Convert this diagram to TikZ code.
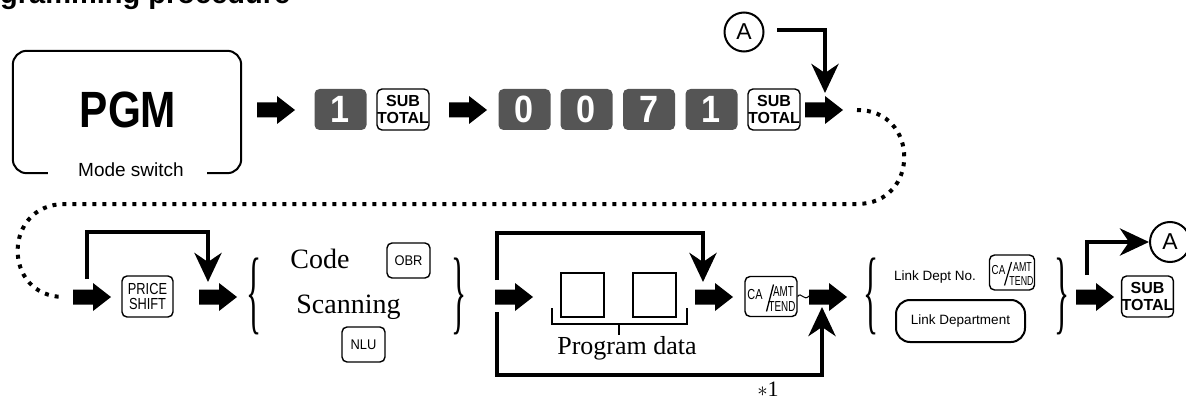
\documentclass[tikz,border=0pt]{standalone}
\usepackage{fontspec}
\setmainfont{Liberation Sans}
\newfontfamily\tnr{Liberation Serif}
\usetikzlibrary{arrows.meta,calc}
\definecolor{keygray}{HTML}{555555}
\newcommand{\fsz}[1]{\fontsize{#1}{#1}\selectfont}
\begin{document}
\begin{tikzpicture}[x=1pt,y=-1pt,
  key/.style={draw, line width=1.4pt, rounded corners=5pt, inner sep=0pt, minimum width=52pt, minimum height=41pt, align=center},
  subtot/.style={key, font=\fontsize{16}{16.5}\selectfont\bfseries},
  dkey/.style={fill=keygray, rounded corners=5pt, inner sep=0pt, minimum width=52pt, minimum height=41pt, text=white, font=\fsz{38}\bfseries},
  flow/.style={line width=4.5pt, -{Stealth[length=29pt,width=27pt,inset=9pt]}},
  dots/.style={line width=4pt, dash pattern=on 4pt off 6pt},
  circ/.style={draw, circle, line width=2pt, minimum size=39pt, inner sep=0pt, font=\fsz{23}},
  databox/.style={draw, line width=1.5pt, minimum width=43pt, minimum height=44pt, inner sep=0pt},
  brc/.style={inner sep=0pt, font=\tnr\fsz{30}},
  catxt/.style={inner sep=0pt, font=\fsz{14.5}},
  barrow/.pic={\fill (0,-7.5) -- (20,-7.5) -- (20,-14) -- (38,0) -- (20,14) -- (20,7.5) -- (0,7.5) -- cycle;},
]
\useasboundingbox (0,0) rectangle (1186,401);
\clip (0,0) rectangle (1186,401);

% title
\node[anchor=base west, inner sep=0pt, font=\fsz{29}\bfseries] (title) at (0,4) {gramming procedure};

% PGM mode switch
\node[minimum width=228pt, minimum height=122pt, inner sep=0pt] (pgmbox) at (127,112) {};
\draw[line width=2pt, rounded corners=14pt] ([xshift=35pt]pgmbox.south west) -- (pgmbox.south west) -- (pgmbox.north west) -- (pgmbox.north east) -- (pgmbox.south east) -- ([xshift=-34pt]pgmbox.south east);
\node[font=\fsz{51}\bfseries, inner sep=0pt] (pgm) at (128,110) {\scalebox{0.83}[1]{PGM}};
\node[font=\fsz{19}, inner sep=0pt] (mode) at (131,170) {Mode switch};

% top row
\pic at (257,110) {barrow};
\node[dkey] (k1) at (340.5,109.5) {\scalebox{0.9}[1]{1}};
\node[subtot] (st1) at (403,109.5) {SUB\\TOTAL};
\pic at (449,110) {barrow};
\node[dkey] (k0a) at (524.5,109.5) {\scalebox{0.9}[1]{0}};
\node[dkey] (k0b) at (586.5,109.5) {\scalebox{0.9}[1]{0}};
\node[dkey] (k7) at (649,109.5) {\scalebox{0.9}[1]{7}};
\node[dkey] (k1b) at (711.5,109.5) {\scalebox{0.9}[1]{1}};
\node[subtot] (st2) at (774,109.5) {SUB\\TOTAL};
\pic at (805,110) {barrow};

% A entry
\node[circ] (Atop) at (744,32) {A};
\coordinate (aout) at (777,30);
\coordinate (ain) at (825,93);
\draw[flow] (aout) -| (ain);

% dotted return
\coordinate (d1) at (857,110);
\coordinate (d2) at (857,204);
\coordinate (d3) at (65,204);
\coordinate (d4) at (64,297);
\draw[dots] (d1) .. controls (920,110) and (920,204) .. (d2) -- (d3) .. controls (2,204) and (2,297) .. (d4);

% bottom row
\pic at (73,297) {barrow};
\node[key, minimum width=51pt, font=\fontsize{16}{12.5}\selectfont] (ps) at (147.5,296.5) {\scalebox{0.8}[1]{\shortstack{PRICE\\SHIFT}}};
\coordinate (p1) at (87,279);
\coordinate (p2) at (208,282);
\draw[flow] (p1) |- (p2 |- 0,232) -- (p2);
\pic at (199,297) {barrow};

\node[brc] (lb1) at (254,296) {\scalebox{1.05}[3.1]{\{}};
\node[font=\tnr\fsz{28}, anchor=base, inner sep=0pt] (code) at (320,268) {Code};
\node[key, minimum width=43pt, minimum height=35pt, font=\fsz{14}] (obr) at (408.5,260.5) {\scalebox{0.92}[1]{OBR}};
\node[font=\tnr\fsz{28}, anchor=base, inner sep=0pt] (scan) at (348.5,313) {Scanning};
\node[key, minimum width=43pt, minimum height=35pt, font=\fsz{14}] (nlu) at (363.5,344.5) {\scalebox{0.92}[1]{NLU}};
\node[brc] (rb1) at (459,296) {\scalebox{1.05}[3.1]{\}}};

\pic at (495,297) {barrow};
\coordinate (q1) at (497,280);
\coordinate (q2) at (703,282);
\draw[flow] (q1) |- (q2 |- 0,233) -- (q2);
\coordinate (r1) at (497,312);
\coordinate (r2) at (822,307);
\draw[flow] (r1) |- (r2 |- 0,375) -- (r2);

\node[databox] (b1) at (582.5,295) {};
\node[databox] (b2) at (654.5,295) {};
\draw[line width=1.5pt] (552,308) -- (552,324) -- (687,324) -- (687,308);
\draw[line width=1.5pt] (619,324) -- (619,335);
\node[font=\tnr\fsz{26}, anchor=base, inner sep=0pt] (pd) at (627,354) {Program data};
\node[font=\tnr\fsz{22}, anchor=base, inner sep=0pt] (n1) at (768,396) {$\ast$1};

\pic at (695,297) {barrow};
\node[key, minimum width=52pt, minimum height=40pt] (ca1) at (771,296.5) {};
\node[catxt] at ([shift={(-16,-2)}]ca1.center) {\scalebox{0.75}[1]{CA}};
\node[catxt] at ([shift={(12.5,-5)}]ca1.center) {\scalebox{0.68}[1]{AMT}};
\node[catxt] at ([shift={(11,10.5)}]ca1.center) {\scalebox{0.68}[1]{TEND}};
\draw[line width=1.3pt] ([shift={(2.5,-12)}]ca1.center) -- ([shift={(-4.5,15)}]ca1.center);
\draw[line width=1pt] (ca1.east) .. controls (801,291) and (804,302) .. (809,296);
\pic at (809,297) {barrow};

\node[brc] (lb2) at (871,296) {\scalebox{1.05}[3.1]{\{}};
\node[font=\fsz{13.5}, anchor=base, inner sep=0pt] (ldn) at (935,280) {Link Dept No.};
\node[key, minimum width=45pt, minimum height=35pt] (ca2) at (1012,272.5) {};
\node[catxt, font=\fsz{13}] at ([shift={(-13.5,-2.5)}]ca2.center) {\scalebox{0.75}[1]{CA}};
\node[catxt, font=\fsz{13}] at ([shift={(10.5,-5)}]ca2.center) {\scalebox{0.68}[1]{AMT}};
\node[catxt, font=\fsz{13}] at ([shift={(9.5,9)}]ca2.center) {\scalebox{0.68}[1]{TEND}};
\draw[line width=1.2pt] ([shift={(-0.5,-10.5)}]ca2.center) -- ([shift={(-7.5,13)}]ca2.center);
\node[draw, line width=2pt, rounded corners=14pt, minimum width=129pt, minimum height=42pt, inner sep=0pt, font=\fsz{13.5}] (ld) at (960.5,321) {Link Department};
\node[brc] (rb2) at (1062,296) {\scalebox{1.05}[3.1]{\}}};

\pic at (1076,297) {barrow};
\node[subtot, minimum width=51pt] (st3) at (1147.5,296.5) {SUB\\TOTAL};
\node[circ, minimum size=40pt] (Abot) at (1170,242) {A};
\coordinate (s1) at (1087,275);
\draw[flow] (s1) |- (Abot.west);
\end{tikzpicture}
\end{document}
